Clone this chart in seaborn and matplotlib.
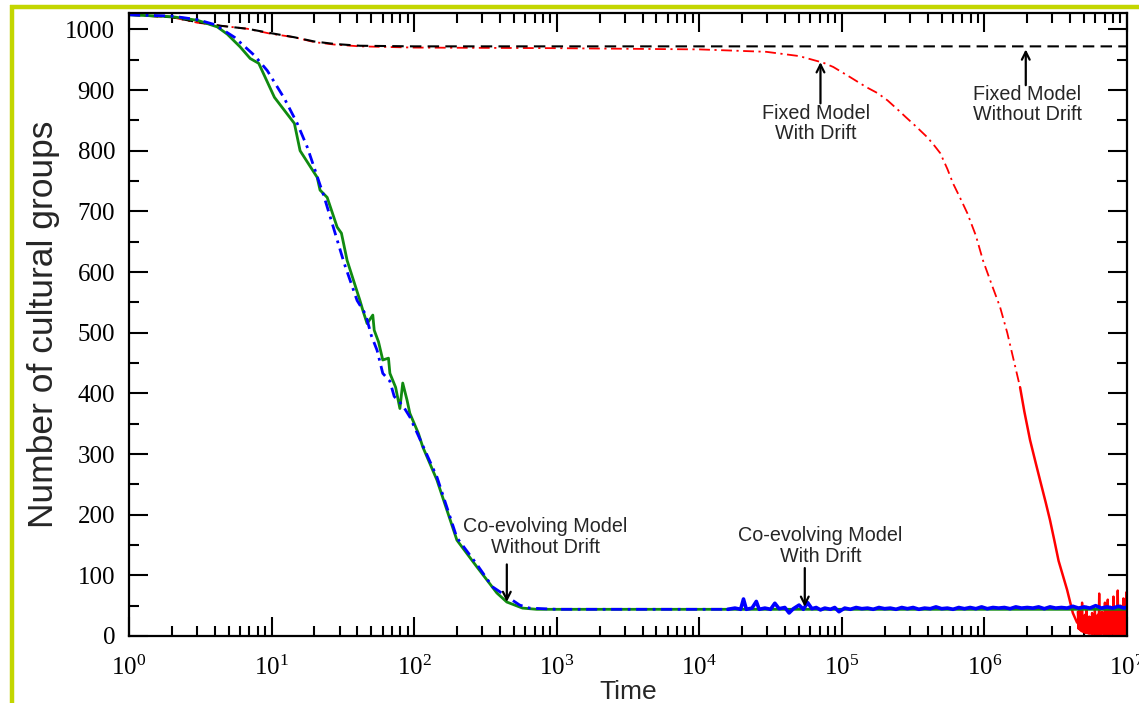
import numpy as np
import pandas as pd
import seaborn as sns
import matplotlib
matplotlib.use("Agg")
import matplotlib.pyplot as plt
from matplotlib.lines import Line2D
from matplotlib.ticker import LogLocator, MultipleLocator, LogFormatterMathtext, NullFormatter

# ---------------- data (log10 of time, number of groups) ----------------
green_exp = [0, 0.30, 0.48, 0.62, 0.69, 0.78, 0.85, 0.91, 1.02, 1.16, 1.20, 1.32, 1.34, 1.39,
             1.46, 1.49, 1.53, 1.62, 1.64, 1.67, 1.71, 1.72, 1.75, 1.78, 1.82, 1.83, 1.87,
             1.90, 1.92, 1.95, 1.97, 2.03, 2.06, 2.16, 2.30, 2.44, 2.58, 2.65, 2.76, 2.86,
             3.50, 4.30, 5.50, 7.00]
green_val = [1024, 1021, 1015, 1004, 992, 971, 952, 944, 888, 845, 800, 756, 735, 723,
             674, 664, 619, 553, 537, 515, 529, 504, 485, 455, 458, 433, 410,
             375, 417, 389, 367, 334, 312, 257, 158, 114, 71, 56, 46, 44,
             44, 44, 44, 44]

blue_exp = [0, 0.30, 0.48, 0.60, 0.74, 0.88, 0.97, 1.09, 1.18, 1.25, 1.37, 1.51, 1.60, 1.66,
            1.70, 1.74, 1.78, 1.83, 1.86, 1.92, 1.97, 2.03, 2.16, 2.30, 2.44, 2.55, 2.74,
            2.81, 3.00, 3.60, 4.20]
blue_val = [1024, 1022, 1016, 1008, 987, 957, 932, 886, 845, 806, 723, 614, 553, 530,
            495, 471, 433, 420, 395, 380, 361, 330, 262, 162, 118, 81, 51,
            46, 44, 44, 44]

blue_noise_exp = [4.20, 4.25, 4.29, 4.31, 4.33, 4.37, 4.40, 4.42, 4.46, 4.50, 4.53, 4.56, 4.60,
                  4.63, 4.66, 4.70, 4.73, 4.76, 4.79, 4.82, 4.85, 4.88, 4.92, 4.95, 4.98, 5.02,
                  5.06, 5.10, 5.14, 5.18, 5.22, 5.26, 5.30, 5.34, 5.38, 5.42, 5.46, 5.50, 5.54,
                  5.58, 5.62, 5.66, 5.70, 5.74, 5.78, 5.82, 5.86, 5.90, 5.94, 5.98, 6.02, 6.06,
                  6.10, 6.14, 6.18, 6.22, 6.26, 6.30, 6.34, 6.38, 6.42, 6.46, 6.50, 6.54, 6.58,
                  6.62, 6.66, 6.70, 6.74, 6.78, 6.82, 6.86, 6.90, 6.94, 6.98, 7.00]
blue_noise_val = [44, 46, 44, 61, 44, 46, 57, 44, 46, 44, 54, 45, 47,
                  38, 45, 51, 44, 55, 45, 47, 43, 46, 44, 47, 40, 46,
                  44, 47, 45, 46, 44, 47, 45, 46, 44, 47, 45, 47, 44,
                  46, 45, 48, 45, 46, 44, 47, 45, 47, 45, 48, 45, 47,
                  46, 47, 45, 48, 46, 47, 46, 48, 45, 48, 46, 47, 46,
                  49, 46, 48, 46, 50, 46, 48, 46, 49, 46, 48]

# red: dash-dot part (slow phase) and the denser fast-decay part
red_exp = [0, 0.30, 0.48, 0.64, 0.83, 0.99, 1.16, 1.30, 1.44, 1.62, 2.00, 3.00, 4.00, 4.47,
           4.70, 4.87, 4.94, 5.06, 5.17, 5.25, 5.32, 5.40, 5.45, 5.52, 5.60, 5.65, 5.69,
           5.74, 5.78, 5.83, 5.88, 5.94, 5.99, 6.05, 6.11, 6.16, 6.20, 6.25]
red_val = [1024, 1020, 1011, 1006, 1001, 993, 987, 979, 975, 972, 970, 969, 967, 963,
           956, 945, 938, 921, 905, 895, 883, 866, 855, 840, 822, 808, 796,
           770, 746, 722, 697, 660, 619, 580, 542, 500, 460, 410]

red_drop_exp = [6.25, 6.28, 6.32, 6.36, 6.39, 6.43, 6.46, 6.49, 6.52, 6.55, 6.58, 6.62, 6.65]
red_drop_val = [410, 370, 323, 285, 257, 220, 191, 158, 124, 100, 76, 38, 22]

red_tail_exp = [6.655, 6.66, 6.665, 6.67, 6.675, 6.68, 6.685, 6.69, 6.695, 6.70, 6.705, 6.71,
                6.715, 6.72, 6.725, 6.73, 6.735, 6.74,
                6.745, 6.75, 6.755, 6.76, 6.765, 6.77, 6.775, 6.78, 6.785, 6.79, 6.795, 6.80,
                6.805, 6.81, 6.815, 6.82, 6.825, 6.83, 6.835, 6.84, 6.845, 6.85, 6.855, 6.86,
                6.865, 6.87, 6.875, 6.88, 6.885, 6.89, 6.895, 6.90, 6.905, 6.91, 6.915, 6.92,
                6.925, 6.93, 6.935, 6.94, 6.945, 6.95, 6.955, 6.96, 6.965, 6.97, 6.975, 6.98,
                6.985, 6.99, 6.995, 7.0]
red_tail_val = [40, 12, 45, 10, 30, 8, 55, 7, 28, 6, 35, 5, 48, 5, 26, 4, 32, 4,
                30, 4, 38, 3, 25, 6, 45, 2, 28, 5, 35, 1, 70, 4, 30, 2, 40, 6, 22, 3, 55, 2,
                33, 5, 60, 1, 27, 4, 48, 2, 36, 6, 65, 3, 30, 1, 42, 5, 75, 2, 38, 4, 50, 1,
                30, 6, 62, 2, 40, 3, 72, 5]

black_exp = [0, 0.30, 0.48, 0.64, 0.83, 0.99, 1.16, 1.30, 1.44, 1.62, 2.00, 7.00]
black_val = [1024, 1020, 1012, 1006, 1001, 994, 987, 980, 976, 973, 972, 972]

# annotations
ann_text = ["Co-evolving Model\nWithout Drift", "Co-evolving Model\nWith Drift",
            "Fixed Model\nWith Drift", "Fixed Model\nWithout Drift"]
ann_text_exp = [2.92, 4.85, 4.82, 6.30]
ann_text_val = [163, 148, 845, 876]
ann_arrow_exp = [2.65, 4.74, 4.85, 6.29]
ann_tail_val = [118, 112, 878, 908]
ann_tip_val = [56, 48, 946, 967]


def frame(exp, val):
    return pd.DataFrame({"t": 10.0 ** np.asarray(exp, dtype=float), "v": val})


# ---------------- style ----------------
sns.set_style("ticks")
plt.rcParams["font.family"] = ["Liberation Serif", "DejaVu Serif"]
plt.rcParams["mathtext.fontset"] = "stix"

fig = plt.figure(figsize=(11.39, 7.03), dpi=100)
ax = fig.add_axes([129 / 1139, 1 - 636 / 703, (1127 - 129) / 1139, (636 - 13) / 703])

common = dict(x="t", y="v", ax=ax, estimator=None, sort=False, legend=False)
sns.lineplot(data=frame(red_exp, red_val), color="#ff0000", lw=1.3,
             linestyle=(0, (6, 2.5, 1.2, 2.5)), **common)
sns.lineplot(data=frame(red_drop_exp, red_drop_val), color="#ff0000", lw=1.8, **common)
sns.lineplot(data=frame(red_tail_exp, red_tail_val), color="#ff0000", lw=1.7, **common)
sns.lineplot(data=frame(black_exp, black_val), color="black", lw=1.5,
             linestyle=(0, (5.5, 3)), **common)
sns.lineplot(data=frame(green_exp, green_val), color="#108a10", lw=2.0, **common)
sns.lineplot(data=frame(blue_exp, blue_val), color="#0000ff", lw=2.0,
             linestyle=(0, (4, 2, 1, 2)), **common)
sns.lineplot(data=frame(blue_noise_exp, blue_noise_val), color="#0000ff", lw=2.6, **common)

ax.set_xscale("log")
ax.set_xlim(1, 1e7)
ax.set_ylim(0, 1027)

ax.xaxis.set_major_locator(LogLocator(base=10, numticks=20))
ax.xaxis.set_minor_locator(LogLocator(base=10, subs=np.arange(2, 10), numticks=100))
ax.xaxis.set_major_formatter(LogFormatterMathtext())
ax.xaxis.set_minor_formatter(NullFormatter())
ax.yaxis.set_major_locator(MultipleLocator(100))
ax.yaxis.set_minor_locator(MultipleLocator(50))

ax.tick_params(which="both", direction="in", top=True, right=True, width=1.5, colors="black")
ax.tick_params(which="major", length=14, labelsize=18)
ax.tick_params(which="minor", length=7)
ax.tick_params(axis="x", which="major", pad=14)
ax.tick_params(axis="y", which="major", pad=10)
for s in ax.spines.values():
    s.set_linewidth(1.6)
    s.set_color("black")

ax.set_xlabel("Time", family="Liberation Sans", fontsize=19, labelpad=0)
ax.set_ylabel("Number of cultural groups", family="Liberation Sans", fontsize=25.5, labelpad=4)

for txt, tx, tv, ax_e, tail, tip in zip(ann_text, ann_text_exp, ann_text_val,
                                         ann_arrow_exp, ann_tail_val, ann_tip_val):
    ax.text(10 ** tx, tv, txt, ha="center", va="center", family="Liberation Sans",
            fontsize=14.2, linespacing=1.12)
    ax.annotate("", xy=(10 ** ax_e, tip), xytext=(10 ** ax_e, tail),
                arrowprops=dict(arrowstyle="->", lw=1.6, color="black",
                                shrinkA=0, shrinkB=0, mutation_scale=14))

# yellow-green frame lines
fig.add_artist(Line2D([12 / 1139, 12 / 1139], [0, 1 - 5 / 703], color="#c3d600", lw=3.2,
                      transform=fig.transFigure, solid_capstyle="butt"))
fig.add_artist(Line2D([10 / 1139, 1], [1 - 7 / 703, 1 - 7 / 703], color="#c3d600", lw=3.2,
                      transform=fig.transFigure, solid_capstyle="butt"))

fig.savefig("out.png", dpi=100)
